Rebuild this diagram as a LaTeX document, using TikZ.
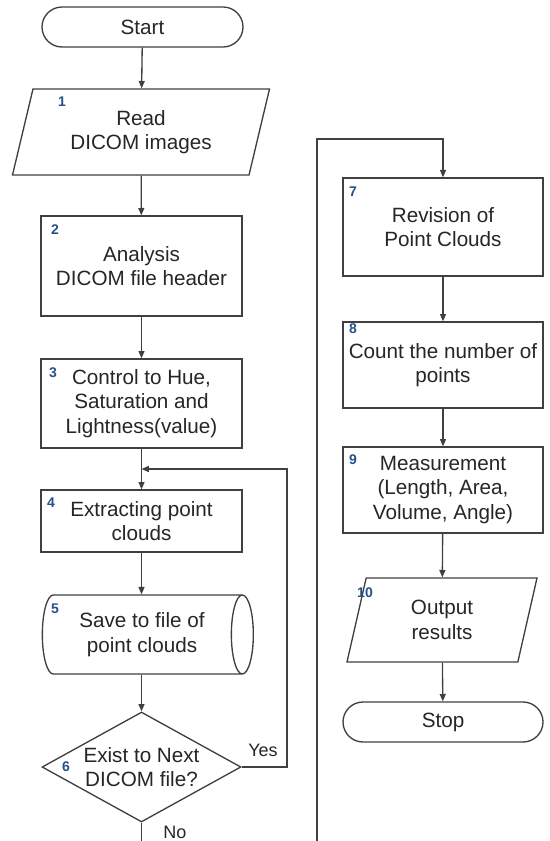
\documentclass[tikz,border=0pt]{standalone}
\usepackage{fontspec}
\setmainfont{Liberation Sans}
\usetikzlibrary{arrows.meta,shapes.geometric}

\definecolor{lncol}{RGB}{64,64,64}
\definecolor{numcol}{RGB}{38,80,140}

\tikzset{every picture/.style={line width=1pt}}
\tikzset{
  box/.style={draw=lncol, fill=white, align=center, inner sep=0pt, text=black!85, font=\fontsize{15.5}{18.5}\selectfont},
  procbox/.style={box, rectangle, minimum width=150.75pt},
  termbox/.style={box, rectangle, rounded corners=15pt, minimum width=150.75pt, minimum height=30pt},
  iobox/.style={box, trapezium, trapezium stretches body=true},
  databox/.style={box, cylinder, aspect=0.5, minimum width=59.25pt, minimum height=158.25pt},
  decbox/.style={box, diamond, aspect=1.8, minimum width=149.25pt, minimum height=82.5pt},
  numlbl/.style={inner sep=0pt, text=numcol, font=\fontsize{10.5}{12}\selectfont\bfseries},
  yesno/.style={inner sep=0pt, text=black!85, font=\fontsize{13.5}{15}\selectfont},
  flow/.style={draw=lncol, -{Triangle[length=5.5pt,width=4.5pt]}},
}

\begin{document}
\begin{tikzpicture}[x=0.75pt,y=0.75pt,yscale=-1]
	\useasboundingbox (0,0) rectangle (549,841);

	%Shape: Terminator [id:start]
	\node[termbox] (start) at (142.5,27) {Start};
	%Shape: Data [id:b1]
	\node[iobox, trapezium left angle=65, trapezium right angle=115, minimum width=192.75pt, minimum height=64.5pt] (b1) at (141,132) {Read\\DICOM images};
	%Shape: Process [id:b2]
	\node[procbox, minimum height=75pt] (b2) at (141.5,266) {Analysis\\DICOM file header};
	%Shape: Process [id:b3]
	\node[procbox, minimum height=66.75pt] (b3) at (141.5,403.5) {Control to Hue,\\Saturation and\\Lightness(value)};
	%Shape: Process [id:b4]
	\node[procbox, minimum height=46.5pt] (b4) at (141.5,521) {Extracting point\\clouds};
	%Shape: Stored Data [id:b5]
	\node[databox] (b5) at (142,634.5) {Save to file of\\point clouds};
	%Shape: Decision [id:b6]
	\node[decbox] (b6) at (141.5,767) {Exist to Next\\DICOM file?};

	%Shape: Process [id:b7]
	\node[procbox, minimum width=150pt, minimum height=73.5pt] (b7) at (443,227) {Revision of\\Point Clouds};
	%Shape: Process [id:b8]
	\node[procbox, minimum width=150pt, minimum height=64.5pt] (b8) at (443,365) {Count the number of\\points};
	%Shape: Process [id:b9]
	\node[procbox, minimum width=150pt, minimum height=64.5pt] (b9) at (443,490) {Measurement\\(Length, Area,\\Volume, Angle)};
	%Shape: Data [id:b10]
	\node[iobox, trapezium left angle=64, trapezium right angle=116, minimum width=142.5pt, minimum height=63pt] (b10) at (442,620) {Output\\results};
	%Shape: Terminator [id:stop]
	\node[termbox, minimum width=150pt] (stop) at (443,722) {Stop};

	\coordinate (loopin) at (141.5,469);
	\coordinate (yesturn) at (287,469);
	\coordinate (cutL) at (141.5,841);
	\coordinate (cutR) at (317,841);
	\coordinate (rturn) at (317,139);

	%Straight Lines
	\draw[flow] (start) -- (b1);
	\draw[flow] (b1) -- (b2);
	\draw[flow] (b2) -- (b3);
	\draw[flow] (b3) -- (b4);
	\draw[flow] (b4) -- (b5.north -| b4.south);
	\draw[flow] (b5.south -| b6.north) -- (b6);
	\draw[flow] (b6.east) -| (yesturn) -- (loopin);
	\draw[draw=lncol] (b6.south) -- (cutL);
	\draw[flow] (cutR) -- (rturn) -| (b7.north);
	\draw[flow] (b7) -- (b8);
	\draw[flow] (b8) -- (b9);
	\draw[flow] (b9) -- (b10);
	\draw[flow] (b10) -- (stop);

	% Text Node
	\node[numlbl] (n1) at (62,102) {1};
	% Text Node
	\node[numlbl] (n2) at (55,230) {2};
	% Text Node
	\node[numlbl] (n3) at (53,373) {3};
	% Text Node
	\node[numlbl] (n4) at (51,503) {4};
	% Text Node
	\node[numlbl] (n5) at (55,609) {5};
	% Text Node
	\node[numlbl] (n6) at (66,767) {6};
	% Text Node
	\node[numlbl] (n7) at (353,192) {7};
	% Text Node
	\node[numlbl] (n8) at (353,329) {8};
	% Text Node
	\node[numlbl] (n9) at (353,460) {9};
	% Text Node
	\node[numlbl] (n10) at (365,593) {10};
	% Text Node
	\node[yesno] (lyes) at (263,750) {Yes};
	% Text Node
	\node[yesno] (lno) at (175,832) {No};

\end{tikzpicture}
\end{document}
